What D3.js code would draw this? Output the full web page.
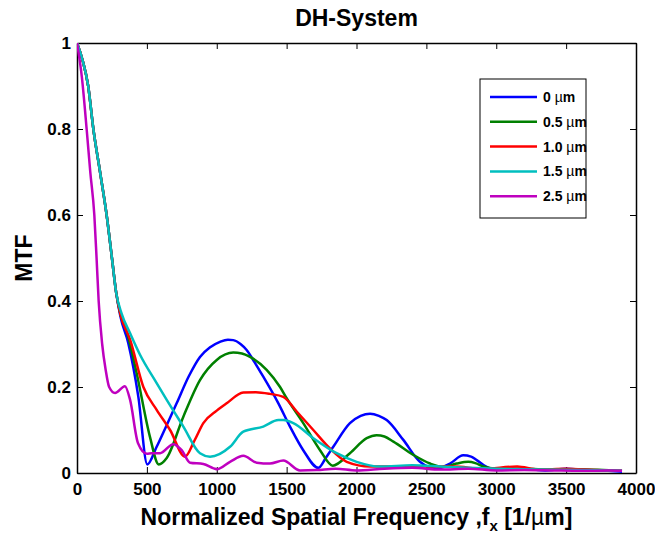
<!DOCTYPE html>
<html>
<head>
<meta charset="utf-8">
<script src="https://cdn.jsdelivr.net/npm/d3@7/dist/d3.min.js"></script>
<style>
  body { margin: 0; background: #fff; }
  svg { font-family: "Liberation Sans", Arial, sans-serif; }
</style>
</head>
<body>
<div id="chart"></div>
<script>
//Datos
const labels = ['0 µm', '0.5 µm', '1.0 µm', '1.5 µm', '2.5 µm'];
const colors = ['#0000ff', '#008000', '#ff0000', '#00bfbf', '#bf00bf'];
const xTicks = [0, 500, 1000, 1500, 2000, 2500, 3000, 3500, 4000];
const yTicks = [0, 0.2, 0.4, 0.6, 0.8, 1];

const fx0 = [0, 40, 80, 117, 165, 212, 250, 280, 310, 367, 439, 503, 570, 640, 713, 800, 880, 950, 1023, 1080, 1118, 1170, 1214, 1270, 1333, 1441, 1524, 1619, 1727, 1780, 1834, 1953, 2030, 2097, 2160, 2216, 2335, 2454, 2574, 2669, 2764, 2820, 2860, 2955, 3050, 3200, 3350, 3500, 3650, 3800, 3900];
const mtf0 = [1, 0.96, 0.9, 0.8, 0.7, 0.6, 0.5, 0.42, 0.365, 0.302, 0.177, 0.02, 0.061, 0.11, 0.162, 0.225, 0.27, 0.292, 0.305, 0.31, 0.309, 0.3, 0.286, 0.258, 0.224, 0.162, 0.108, 0.053, 0.012, 0.035, 0.061, 0.116, 0.133, 0.138, 0.133, 0.123, 0.077, 0.026, 0.01, 0.022, 0.041, 0.038, 0.03, 0.011, 0.008, 0.01, 0.006, 0.01, 0.007, 0.005, 0.003];

const fx05 = [0, 40, 80, 117, 165, 212, 250, 280, 310, 355, 427, 522, 585, 642, 761, 880, 1000, 1118, 1180, 1238, 1357, 1453, 1500, 1619, 1739, 1830, 1953, 2073, 2144, 2200, 2264, 2407, 2526, 2622, 2717, 2800, 2850, 2907, 3000, 3200, 3400, 3600, 3900];
const mtf05 = [1, 0.96, 0.9, 0.8, 0.7, 0.6, 0.5, 0.42, 0.37, 0.33, 0.232, 0.084, 0.02, 0.035, 0.131, 0.216, 0.263, 0.28, 0.278, 0.27, 0.24, 0.2, 0.174, 0.116, 0.053, 0.017, 0.046, 0.081, 0.088, 0.085, 0.073, 0.042, 0.022, 0.014, 0.022, 0.026, 0.023, 0.015, 0.01, 0.01, 0.008, 0.008, 0.005];

const fx10 = [0, 40, 80, 117, 165, 212, 250, 280, 310, 380, 475, 570, 666, 773, 840, 904, 1000, 1071, 1190, 1280, 1381, 1476, 1572, 1691, 1810, 1930, 2097, 2300, 2500, 2700, 2900, 3150, 3300, 3500, 3700, 3900];
const mtf10 = [1, 0.96, 0.9, 0.8, 0.7, 0.6, 0.5, 0.42, 0.37, 0.31, 0.2, 0.147, 0.1, 0.038, 0.075, 0.116, 0.145, 0.162, 0.187, 0.188, 0.184, 0.177, 0.143, 0.1, 0.057, 0.026, 0.015, 0.015, 0.015, 0.015, 0.01, 0.015, 0.008, 0.01, 0.007, 0.005];

const fx15 = [0, 40, 80, 117, 165, 212, 250, 280, 320, 380, 451, 570, 642, 761, 880, 952, 1095, 1190, 1333, 1441, 1476, 1548, 1691, 1858, 2001, 2168, 2400, 2600, 2800, 3000, 3300, 3600, 3900];
const mtf15 = [1, 0.96, 0.9, 0.8, 0.7, 0.6, 0.5, 0.42, 0.37, 0.325, 0.275, 0.209, 0.17, 0.108, 0.046, 0.038, 0.061, 0.096, 0.108, 0.123, 0.123, 0.116, 0.081, 0.046, 0.026, 0.015, 0.018, 0.015, 0.012, 0.01, 0.008, 0.007, 0.005];

const fx25 = [0, 35, 69, 95, 124, 140, 155, 180, 205, 230, 272, 343, 380, 436, 500, 534, 594, 689, 749, 809, 904, 1000, 1095, 1190, 1286, 1381, 1476, 1596, 1715, 1850, 2000, 2200, 2400, 2600, 2800, 3000, 3200, 3400, 3600, 3800, 3900];
const mtf25 = [1, 0.92, 0.8, 0.7, 0.6, 0.5, 0.4, 0.3, 0.24, 0.2, 0.186, 0.202, 0.17, 0.07, 0.045, 0.046, 0.046, 0.067, 0.053, 0.024, 0.021, 0.009, 0.026, 0.04, 0.024, 0.022, 0.029, 0.006, 0.007, 0.01, 0.006, 0.01, 0.012, 0.008, 0.01, 0.006, 0.007, 0.006, 0.005, 0.006, 0.005];

const seriesX = [fx0, fx05, fx10, fx15, fx25];
const seriesY = [mtf0, mtf05, mtf10, mtf15, mtf25];

//Dimensiones
let margin = {top: 43, right: 19, bottom: 62, left: 77},
    width = 655 - margin.left - margin.right,
    height = 535 - margin.top - margin.bottom;

let svg = d3.select('#chart')
    .append('svg')
        .attr('width', 655)
        .attr('height', 535);

let g = svg.append('g')
    .attr('transform', 'translate(' + margin.left + ',' + margin.top + ')');

let x = d3.scaleLinear().domain([0, 4000]).range([0, width]);
let y = d3.scaleLinear().domain([0, 1]).range([height, 0]);

g.append('clipPath').attr('id', 'clip')
    .append('rect').attr('width', width).attr('height', height);

//Ejes
let fmtY = d => d === 0 ? '0' : d === 1 ? '1' : d3.format('.1f')(d);

g.append('g')
    .attr('class', 'axis')
    .attr('transform', 'translate(0,' + height + ')')
    .call(d3.axisBottom(x).tickValues(xTicks).tickFormat(d3.format('d')).tickSizeInner(-6).tickSizeOuter(0).tickPadding(10));

g.append('g')
    .attr('class', 'axis')
    .call(d3.axisLeft(y).tickValues(yTicks).tickFormat(fmtY).tickSizeInner(-6).tickSizeOuter(0).tickPadding(6));

g.append('g')
    .attr('class', 'axis')
    .call(d3.axisTop(x).tickValues(xTicks).tickFormat('').tickSizeInner(-6).tickSizeOuter(0));

g.append('g')
    .attr('class', 'axis')
    .attr('transform', 'translate(' + width + ',0)')
    .call(d3.axisRight(y).tickValues(yTicks).tickFormat('').tickSizeInner(-6).tickSizeOuter(0));

g.selectAll('.axis path').attr('stroke', '#000').attr('stroke-width', 1.5);
g.selectAll('.axis line').attr('stroke', '#000').attr('stroke-width', 1);
g.selectAll('.axis text')
    .attr('fill', '#000')
    .style('font-size', '17px')
    .style('font-weight', 'bold');

//Líneas
let line = d3.line()
    .x(d => x(d[0]))
    .y(d => y(d[1]))
    .curve(d3.curveMonotoneX);

seriesX.forEach(function(xs, i) {
    let pts = xs.map((v, j) => [v, seriesY[i][j]]);
    g.append('path')
        .datum(pts)
        .attr('clip-path', 'url(#clip)')
        .attr('fill', 'none')
        .attr('stroke', colors[i])
        .attr('stroke-width', 2.5)
        .attr('stroke-linejoin', 'round')
        .attr('d', line);
});

//Títulos
svg.append('text')
    .attr('x', margin.left + width / 2)
    .attr('y', 26)
    .attr('text-anchor', 'middle')
    .style('font-size', '23px')
    .style('font-weight', 'bold')
    .text('DH-System');

let xl = svg.append('text')
    .attr('x', margin.left + width / 2)
    .attr('y', 525)
    .attr('text-anchor', 'middle')
    .style('font-size', '23px')
    .style('font-weight', 'bold');
xl.append('tspan').text('Normalized Spatial Frequency ,f');
xl.append('tspan').attr('dy', 6).style('font-size', '15px').text('x');
xl.append('tspan').attr('dy', -6).text(' [1/');
xl.append('tspan').style('font-weight', 'normal').text('µ');
xl.append('tspan').text('m]');

svg.append('text')
    .attr('transform', 'translate(32,' + (margin.top + height / 2) + ') rotate(-90)')
    .attr('text-anchor', 'middle')
    .style('font-size', '23px')
    .style('font-weight', 'bold')
    .text('MTF');

//Leyenda
let legend = svg.append('g').attr('transform', 'translate(480,79)');
legend.append('rect')
    .attr('width', 106).attr('height', 139)
    .attr('fill', '#fff').attr('stroke', '#000').attr('stroke-width', 1);

labels.forEach(function(lab, i) {
    let row = legend.append('g').attr('transform', 'translate(0,' + (18 + i * 24.8) + ')');
    row.append('line')
        .attr('x1', 10).attr('x2', 57)
        .attr('stroke', colors[i]).attr('stroke-width', 2.5);
    let t = row.append('text')
        .attr('x', 63).attr('dy', '0.35em')
        .style('font-size', '14px')
        .style('font-weight', 'bold');
    let parts = lab.split(' ');
    t.append('tspan').text(parts[0] + ' ');
    t.append('tspan').style('font-weight', 'normal').text('µ');
    t.append('tspan').text('m');
});
</script>
</body>
</html>
